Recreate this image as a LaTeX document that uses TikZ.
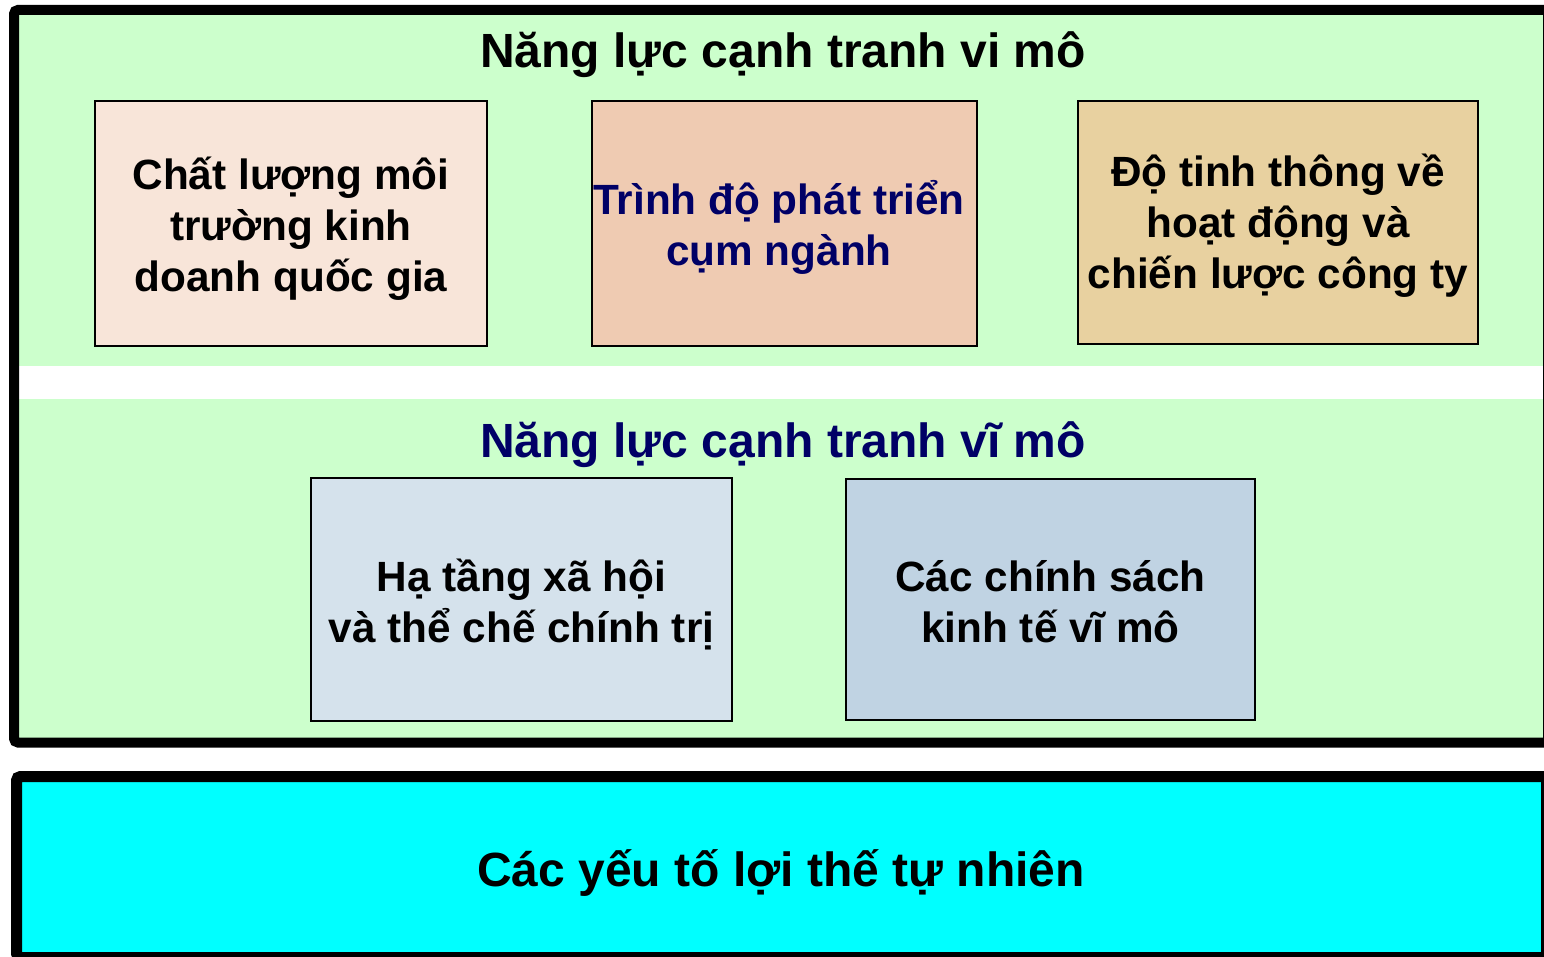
\documentclass[tikz,border=0pt]{standalone}
\usepackage{fontspec}
\setmainfont{Liberation Sans}
\definecolor{bggreen}{HTML}{CCFFCC}
\definecolor{cboxa}{HTML}{F8E5D9}
\definecolor{cboxb}{HTML}{EFCBB2}
\definecolor{cboxc}{HTML}{E8D1A0}
\definecolor{cboxd}{HTML}{D5E2EC}
\definecolor{cboxe}{HTML}{C0D3E3}
\definecolor{navy}{HTML}{000066}
\definecolor{cyanfill}{HTML}{00FFFF}
\begin{document}
\begin{tikzpicture}[x=1pt,y=-1pt,
  panel/.style={draw=black, line width=10pt, rounded corners=4pt},
  boxnode/.style={draw=black, line width=2pt, inner sep=0pt},
  boxtext/.style={inner sep=0pt, align=center, font=\fontsize{42.3}{51}\selectfont\bfseries},
  titlenode/.style={inner sep=0pt, anchor=base, font=\fontsize{48}{56}\selectfont\bfseries}]
\useasboundingbox (0,0) rectangle (1544,957);
\clip (0,0) rectangle (1544,957);
% upper panel
\fill[bggreen] (14,10) rectangle (1548,742.5);
\fill[white] (19,366) rectangle (1543,399);
\draw[panel] (14,10) rectangle (1548,742.5);
% lower panel
\draw[panel, line width=11pt, fill=cyanfill] (16.5,776.5) rectangle (1546.5,957.5);
% titles
\node[titlenode] (t1) at (783,68) {Năng lực cạnh tranh vi mô};
\node[titlenode, text=navy] (t2) at (783,457) {Năng lực cạnh tranh vĩ mô};
\node[titlenode] (t3) at (781,886) {Các yếu tố lợi thế tự nhiên};
% boxes
\node[boxnode, fill=cboxa, minimum width=392pt, minimum height=245pt] (b1) at (291,223.5) {};
\node[boxtext] (b1t) at (291,228.5) {Chất lượng môi\\trường kinh\\doanh quốc gia};
\node[boxnode, fill=cboxb, minimum width=385pt, minimum height=245pt] (b2) at (784.5,223.5) {};
\node[boxtext, text=navy] (b2t) at (779,227.5) {Trình độ phát triển\\cụm ngành};
\node[boxnode, fill=cboxc, minimum width=400pt, minimum height=243pt] (b3) at (1278,222.5) {};
\node[boxtext] (b3t) at (1278,225.5) {Độ tinh thông về\\hoạt động và\\chiến lược công ty};
\node[boxnode, fill=cboxd, minimum width=421pt, minimum height=243pt] (b4) at (521.5,599.5) {};
\node[boxtext] (b4t) at (521.5,604.5) {Hạ tầng xã hội\\và thể chế chính trị};
\node[boxnode, fill=cboxe, minimum width=409pt, minimum height=241pt] (b5) at (1050.5,599.5) {};
\node[boxtext] (b5t) at (1050.5,601.5) {Các chính sách\\kinh tế vĩ mô};
\end{tikzpicture}
\end{document}
